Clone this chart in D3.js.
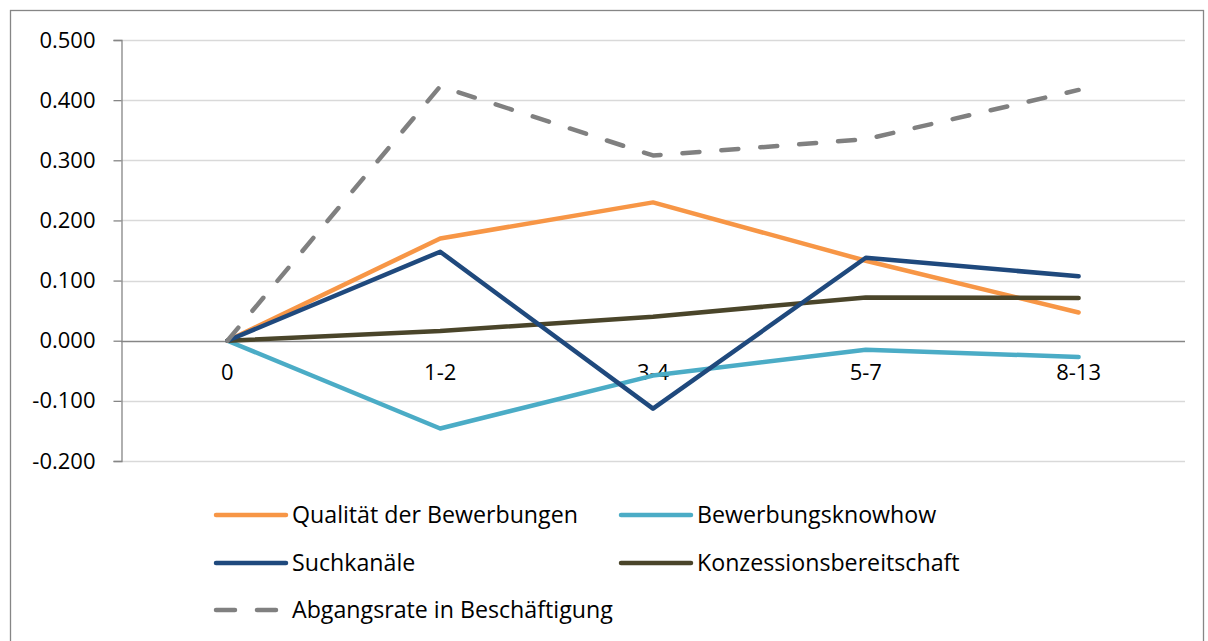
<!DOCTYPE html>
<html>
<head>
<meta charset="utf-8">
<script src="https://cdn.jsdelivr.net/npm/d3@7"></script>
<style>
  body { margin: 0; background: #fff; }
  svg text { font-family: "Open Sans", sans-serif; fill: #000; }
</style>
</head>
<body>
<div id="chart"></div>
<script>
var width = 1208, height = 641;
var margin = {top: 40, right: 23, bottom: 180, left: 121};

// categories (x axis)
var categories = ["0", "1-2", "3-4", "5-7", "8-13"];
var yTicks = [-0.2, -0.1, 0, 0.1, 0.2, 0.3, 0.4, 0.5];

// series values
var qualitaet = [0, 0.170, 0.230, 0.133, 0.047];
var knowhow = [0, -0.146, -0.058, -0.015, -0.027];
var suchkanaele = [0, 0.148, -0.113, 0.138, 0.107];
var konzession = [0, 0.016, 0.040, 0.072, 0.071];
var abgangsrate = [0, 0.423, 0.308, 0.335, 0.417];

var series = [
  {name: "Qualität der Bewerbungen", values: qualitaet, color: "#F79646", dash: null},
  {name: "Bewerbungsknowhow", values: knowhow, color: "#4BACC6", dash: null},
  {name: "Suchkanäle", values: suchkanaele, color: "#1F497D", dash: null},
  {name: "Konzessionsbereitschaft", values: konzession, color: "#4A452A", dash: null},
  {name: "Abgangsrate in Beschäftigung", values: abgangsrate, color: "#808080", dash: "17,22"}
];
// draw order (dashed line on top)
var drawOrder = [1, 0, 3, 2, 4];

var axisFont = "22px";
var legendFont = "23.2px";

var svg = d3.select("#chart").append("svg")
  .attr("width", width)
  .attr("height", height);

// outer border
svg.append("rect")
  .attr("x", 10.5).attr("y", 10.5)
  .attr("width", 1193).attr("height", 660)
  .attr("fill", "none")
  .attr("stroke", "#868686")
  .attr("stroke-width", 1.3);

var x = d3.scaleBand()
  .domain(categories)
  .range([margin.left, width - margin.right]);

var y = d3.scaleLinear()
  .domain([-0.2, 0.5])
  .range([461, 40]);

// gridlines
svg.append("g")
  .selectAll("line")
  .data(yTicks.filter(function(d) { return d !== 0; }))
  .enter().append("line")
    .attr("x1", margin.left)
    .attr("x2", width - margin.right)
    .attr("y1", function(d) { return Math.round(y(d)) + 0.5; })
    .attr("y2", function(d) { return Math.round(y(d)) + 0.5; })
    .attr("stroke", "#d9d9d9")
    .attr("stroke-width", 1.3);

// y axis
var yAxis = d3.axisLeft(y)
  .tickValues(yTicks)
  .tickSize(8)
  .tickPadding(18)
  .tickFormat(function(d) { return d.toFixed(3); });

var yG = svg.append("g")
  .attr("transform", "translate(" + (margin.left + 0.5) + ",0)")
  .call(yAxis);
yG.select(".domain").attr("stroke", "#868686").attr("stroke-width", 1.3);
yG.selectAll(".tick line").attr("stroke", "#868686").attr("stroke-width", 1.3);
yG.selectAll("text").style("font-size", axisFont).attr("fill", "#000");

// zero line (x axis)
svg.append("line")
  .attr("x1", margin.left)
  .attr("x2", width - margin.right)
  .attr("y1", Math.round(y(0)) + 0.5)
  .attr("y2", Math.round(y(0)) + 0.5)
  .attr("stroke", "#868686")
  .attr("stroke-width", 1.3);

// x labels
svg.append("g")
  .selectAll("text")
  .data(categories)
  .enter().append("text")
    .attr("x", function(d) { return x(d) + x.bandwidth() / 2; })
    .attr("y", y(0) + 32)
    .attr("dy", "0.35em")
    .attr("text-anchor", "middle")
    .style("font-size", axisFont)
    .text(function(d) { return d; });

// lines
var line = d3.line()
  .x(function(d, i) { return x(categories[i]) + x.bandwidth() / 2; })
  .y(function(d) { return y(d); });

svg.append("g")
  .selectAll("path")
  .data(drawOrder.map(function(i) { return series[i]; }))
  .enter().append("path")
    .attr("d", function(d) { return line(d.values); })
    .attr("fill", "none")
    .attr("stroke", function(d) { return d.color; })
    .attr("stroke-width", 4.5)
    .attr("stroke-linecap", "round")
    .attr("stroke-linejoin", "round")
    .attr("stroke-dasharray", function(d) { return d.dash; });

// legend
var legendPos = [
  {x: 216, y: 515}, {x: 621, y: 515},
  {x: 216, y: 563}, {x: 621, y: 563},
  {x: 216, y: 610}
];

var legend = svg.append("g")
  .selectAll("g")
  .data(series)
  .enter().append("g")
    .attr("transform", function(d, i) { return "translate(" + legendPos[i].x + "," + legendPos[i].y + ")"; });

legend.append("line")
  .attr("x1", 0).attr("x2", 70)
  .attr("y1", 0).attr("y2", 0)
  .attr("stroke", function(d) { return d.color; })
  .attr("stroke-width", 4.5)
  .attr("stroke-linecap", "round")
  .attr("stroke-dasharray", function(d) { return d.dash ? "19,22" : null; });

legend.append("text")
  .attr("x", 76)
  .attr("y", 0)
  .attr("dy", "0.35em")
  .style("font-size", legendFont)
  .text(function(d) { return d.name; });
</script>
</body>
</html>
